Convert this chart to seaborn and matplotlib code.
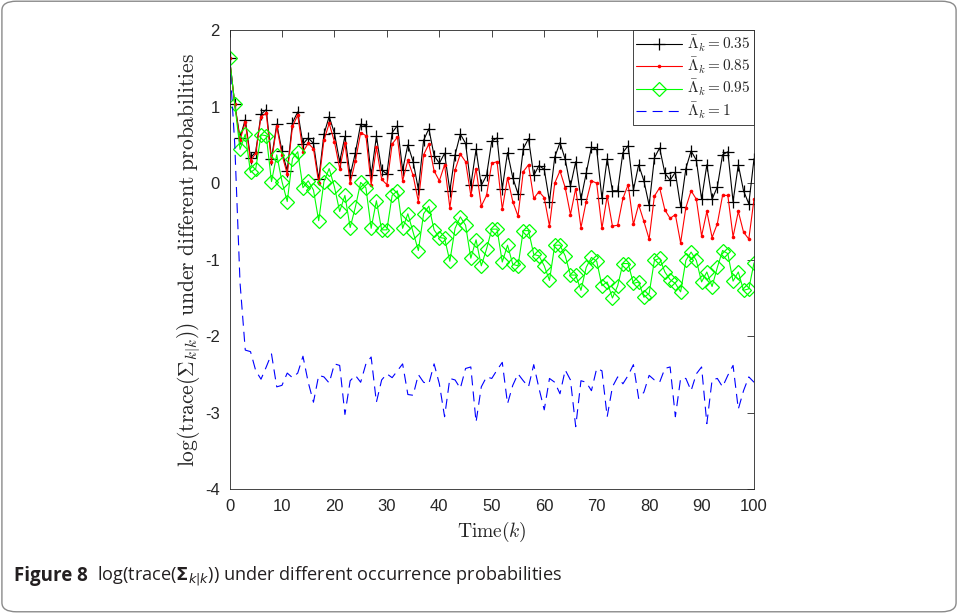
import numpy as np
import pandas as pd
import seaborn as sns
import matplotlib.pyplot as plt
from matplotlib.patches import FancyBboxPatch

# values (k = 0..100)
time_k = list(range(101))

lam_035 = [1.63, 1.03, 0.59, 0.83, 0.33, 0.41, 0.90, 0.96, 0.32, 0.77,
           0.42, 0.16, 0.79, 0.93, 0.51, 0.59, 0.52, 0.05, 0.64, 0.87,
           0.65, 0.28, 0.61, 0.10, 0.40, 0.77, 0.75, 0.10, 0.61, 0.17,
           0.12, 0.66, 0.75, 0.17, 0.50, 0.28, -0.08, 0.56, 0.71, 0.36,
           0.26, 0.39, -0.10, 0.37, 0.64, 0.52, -0.03, 0.44, -0.03, 0.10,
           0.55, 0.59, -0.07, 0.40, 0.07, -0.14, 0.45, 0.58, 0.10, 0.23,
           0.18, -0.24, 0.34, 0.53, 0.31, -0.04, 0.28, -0.21, 0.13, 0.47,
           0.44, -0.20, 0.32, -0.10, -0.10, 0.40, 0.49, -0.09, 0.24, 0.03,
           -0.29, 0.33, 0.46, 0.13, 0.04, 0.14, -0.31, 0.19, 0.42, 0.30,
           -0.21, 0.24, -0.21, -0.05, 0.37, 0.41, -0.24, 0.24, -0.10, -0.27,
           0.32]

lam_085 = [1.63, 1.03, 0.56, 0.80, 0.29, 0.39, 0.87, 0.91, 0.28, 0.74,
           0.37, 0.12, 0.74, 0.89, 0.41, 0.52, 0.45, 0.00, 0.56, 0.78,
           0.54, 0.19, 0.52, 0.00, 0.29, 0.66, 0.62, -0.02, 0.47, 0.05,
           -0.02, 0.51, 0.60, 0.03, 0.30, 0.10, -0.24, 0.37, 0.51, 0.16,
           0.03, 0.24, -0.32, 0.17, 0.38, 0.28, -0.16, 0.19, -0.30, -0.16,
           0.26, 0.28, -0.34, 0.07, -0.24, -0.43, 0.15, 0.24, -0.20, -0.11,
           -0.19, -0.56, 0.00, 0.16, -0.06, -0.41, -0.07, -0.58, -0.24, 0.03,
           0.00, -0.59, -0.17, -0.56, -0.55, -0.20, -0.02, -0.54, -0.28, -0.50,
           -0.73, -0.17, -0.06, -0.35, -0.46, -0.41, -0.78, -0.32, -0.10, -0.21,
           -0.69, -0.37, -0.71, -0.53, -0.16, -0.16, -0.70, -0.37, -0.64, -0.73,
           -0.21]

lam_095 = [1.63, 1.03, 0.44, 0.64, 0.14, 0.19, 0.63, 0.62, 0.02, 0.37,
           0.02, -0.24, 0.32, 0.41, -0.06, 0.03, -0.09, -0.49, 0.02, 0.19,
           -0.05, -0.37, -0.16, -0.58, -0.31, 0.01, -0.06, -0.59, -0.23, -0.61,
           -0.61, -0.16, -0.10, -0.59, -0.40, -0.64, -0.88, -0.40, -0.30, -0.61,
           -0.71, -0.72, -1.02, -0.59, -0.44, -0.55, -0.98, -0.74, -1.08, -0.86,
           -0.60, -0.60, -1.03, -0.81, -1.06, -1.08, -0.62, -0.62, -0.93, -0.95,
           -1.08, -1.27, -0.81, -0.81, -0.95, -1.20, -1.20, -1.40, -1.10, -0.97,
           -1.02, -1.34, -1.29, -1.50, -1.34, -1.05, -1.05, -1.31, -1.29, -1.49,
           -1.44, -1.01, -0.98, -1.16, -1.26, -1.31, -1.42, -1.01, -0.90, -1.01,
           -1.29, -1.16, -1.35, -1.10, -0.88, -0.92, -1.28, -1.16, -1.40, -1.38,
           -1.04]

lam_1 = [1.63, 0.50, -1.30, -2.18, -2.20, -2.45, -2.56, -2.40, -2.23, -2.66,
         -2.64, -2.48, -2.54, -2.48, -2.26, -2.60, -2.86, -2.51, -2.53, -2.61,
         -2.36, -2.38, -3.02, -2.58, -2.51, -2.60, -2.36, -2.27, -2.86, -2.57,
         -2.49, -2.54, -2.45, -2.36, -2.76, -2.77, -2.50, -2.60, -2.62, -2.36,
         -2.62, -3.05, -2.55, -2.57, -2.68, -2.42, -2.40, -3.12, -2.66, -2.53,
         -2.55, -2.44, -2.34, -2.88, -2.64, -2.49, -2.58, -2.66, -2.37, -2.68,
         -2.96, -2.55, -2.60, -2.75, -2.44, -2.57, -3.18, -2.58, -2.60, -2.71,
         -2.42, -2.45, -3.05, -2.66, -2.53, -2.62, -2.51, -2.37, -2.81, -2.73,
         -2.51, -2.57, -2.60, -2.42, -2.40, -3.05, -2.55, -2.55, -2.71, -2.49,
         -2.40, -3.14, -2.57, -2.55, -2.66, -2.51, -2.38, -2.95, -2.71, -2.53,
         -2.60]

labels = [r'$\bar{\Lambda}_k = 0.35$', r'$\bar{\Lambda}_k = 0.85$',
          r'$\bar{\Lambda}_k = 0.95$', r'$\bar{\Lambda}_k = 1$']

sns.set_style('white')
plt.rcParams['font.family'] = ['Liberation Sans Narrow', 'Liberation Sans', 'DejaVu Sans']
plt.rcParams['mathtext.fontset'] = 'cm'
plt.rcParams['axes.unicode_minus'] = False

fig = plt.figure(figsize=(9.58, 6.13), dpi=100)
ax = fig.add_axes([0.2396, 0.2015, 0.5475, 0.7496])

df = pd.DataFrame({'k': time_k, 'a': lam_035, 'b': lam_085, 'c': lam_095, 'd': lam_1})

sns.lineplot(data=df, x='k', y='a', ax=ax, color='black', lw=0.8, marker='+',
             markersize=9, markeredgewidth=0.9, markeredgecolor='black',
             label=labels[0])
sns.lineplot(data=df, x='k', y='b', ax=ax, color='#ff0000', lw=0.8, marker='o',
             markersize=2.6, markeredgewidth=0, markerfacecolor='#ff0000',
             label=labels[1])
sns.lineplot(data=df, x='k', y='c', ax=ax, color='#00ff00', lw=0.8, marker='D',
             markersize=7.5, markerfacecolor='none', markeredgecolor='#00ff00',
             markeredgewidth=0.9, label=labels[2])
sns.lineplot(data=df, x='k', y='d', ax=ax, color='#0000ff', lw=0.8,
             linestyle=(0, (9, 5.5)), label=labels[3])

ax.set_xlim(0, 100)
ax.set_ylim(-4, 2)
ax.set_xticks(range(0, 101, 10))
ax.set_yticks(range(-4, 3))
ax.tick_params(direction='in', length=5, width=0.6, top=True, right=True,
               labelsize=12, colors='#262626', pad=7)
for s in ax.spines.values():
    s.set_linewidth(0.6)
    s.set_color('#262626')

ax.set_xlabel(r'$\mathrm{Time}(k)$', fontsize=14, labelpad=4)
ax.set_ylabel(r'$\mathrm{log(trace(}\Sigma_{k|k}\mathrm{))\ under\ different\ probabilities}$',
              fontsize=15.5, labelpad=2)

leg = ax.legend(loc='upper right', borderaxespad=0, fontsize=11, handlelength=3.0,
                fancybox=False, framealpha=1, edgecolor='#262626',
                borderpad=0.25, labelspacing=0.15, handletextpad=0.3)
leg.get_frame().set_linewidth(0.6)

# caption and rounded border
fig.patches.append(FancyBboxPatch((0.002, 0.002), 0.996, 0.996,
                                  boxstyle='round,pad=0,rounding_size=0.015',
                                  transform=fig.transFigure, fill=False,
                                  edgecolor='#8a8a8a', linewidth=1.0))
t1 = fig.text(0.0146, 0.0603, 'Figure 8', fontsize=13.5, fontweight='bold',
              family=['Open Sans', 'DejaVu Sans'], va='center', color='#231f20')
ax.annotate(r'log(trace($\mathbf{\Sigma}_{k|k}$)) under different occurrence probabilities',
            xy=(1, 0.5), xycoords=t1, xytext=(7, 0), textcoords='offset points',
            va='center', fontsize=13.1, family=['Open Sans', 'DejaVu Sans'],
            math_fontfamily='dejavusans', color='#231f20', annotation_clip=False)

fig.savefig('out.png', dpi=100)
